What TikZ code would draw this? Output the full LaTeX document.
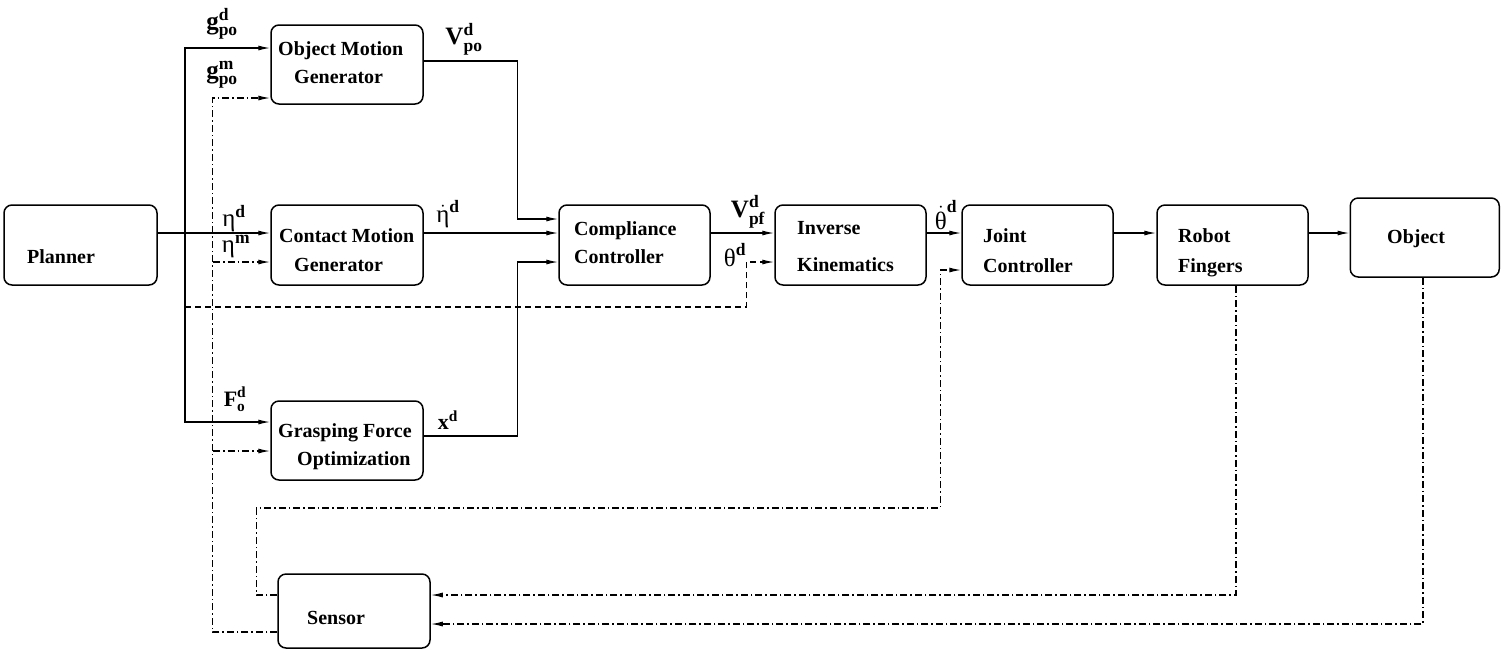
\documentclass[tikz,border=0pt]{standalone}
\usepackage{amsmath}
\usepackage{fontspec}
\setmainfont{Liberation Serif}
\usetikzlibrary{arrows.meta,calc}
\begin{document}
\begin{tikzpicture}[x=1pt,y=-1pt,
  box/.style={draw,line width=1.5pt,rounded corners=8pt,inner sep=0pt},
  txt/.style={anchor=base west,inner sep=0pt,font=\fontsize{20}{24}\selectfont\bfseries},
  lab/.style={inner sep=0pt,font=\fontsize{22}{26}\selectfont},
  grk/.style={inner sep=0pt,font=\fontsize{25}{30}\selectfont},
  bigl/.style={inner sep=0pt,font=\fontsize{25}{30}\selectfont},
  ln/.style={line width=1.3pt},
  arr/.style={ln,-{Latex[length=12pt,width=5pt]}},
  dsh/.style={dash pattern=on 6pt off 4pt},
  dd/.style={dash pattern=on 7pt off 3pt on 1.5pt off 3pt},
]
\useasboundingbox (0,0) rectangle (1501,649);

% boxes
\node[box,minimum width=153pt,minimum height=80pt] (planner) at (80.5,245) {};
\node[box,minimum width=152pt,minimum height=79pt] (omg) at (347,64.5) {};
\node[box,minimum width=152pt,minimum height=80pt] (cmg) at (347,245) {};
\node[box,minimum width=152pt,minimum height=79pt] (gfo) at (347,440.5) {};
\node[box,minimum width=151pt,minimum height=80pt] (cc) at (634.5,245) {};
\node[box,minimum width=151pt,minimum height=80pt] (ik) at (850.5,245) {};
\node[box,minimum width=151pt,minimum height=80pt] (jc) at (1037.5,245) {};
\node[box,minimum width=151pt,minimum height=80pt] (rf) at (1232.5,245) {};
\node[box,minimum width=149pt,minimum height=79pt] (obj) at (1424.75,237.5) {};
\node[box,minimum width=152pt,minimum height=74pt] (sen) at (354,611) {};

% box texts
\node[txt] (planner-t) at (27,263) {Planner};
\node[txt] (omg-t1) at (278,55) {Object Motion};
\node[txt] (omg-t2) at (294,83) {Generator};
\node[txt] (cmg-t1) at (279,242) {Contact Motion};
\node[txt] (cmg-t2) at (294,271) {Generator};
\node[txt] (gfo-t1) at (278,437) {Grasping Force};
\node[txt] (gfo-t2) at (297,465) {Optimization};
\node[txt] (cc-t1) at (574,235) {Compliance};
\node[txt] (cc-t2) at (574,263) {Controller};
\node[txt] (ik-t1) at (797,234) {Inverse};
\node[txt] (ik-t2) at (797,271) {Kinematics};
\node[txt] (jc-t1) at (983,242) {Joint};
\node[txt] (jc-t2) at (983,272) {Controller};
\node[txt] (rf-t1) at (1178,242) {Robot};
\node[txt] (rf-t2) at (1178,272) {Fingers};
\node[txt] (obj-t) at (1387,243) {Object};
\node[txt] (sen-t) at (307,624) {Sensor};

% ports
\coordinate (omg-i1) at (omg.west |- 0,48);
\coordinate (omg-i2) at (omg.west |- 0,98);
\coordinate (omg-o) at (omg.east |- 0,61);
\coordinate (cmg-i1) at (cmg.west |- 0,233);
\coordinate (cmg-i2) at (cmg.west |- 0,262);
\coordinate (cmg-o) at (cmg.east |- 0,233);
\coordinate (gfo-i1) at (gfo.west |- 0,422);
\coordinate (gfo-i2) at (gfo.west |- 0,451);
\coordinate (gfo-o) at (gfo.east |- 0,436);
\coordinate (cc-i1) at (cc.west |- 0,219);
\coordinate (cc-i2) at (cc.west |- 0,233);
\coordinate (cc-i3) at (cc.west |- 0,262);
\coordinate (cc-o) at (cc.east |- 0,233);
\coordinate (ik-i1) at (ik.west |- 0,233);
\coordinate (ik-i2) at (ik.west |- 0,262);
\coordinate (ik-o) at (ik.east |- 0,233);
\coordinate (jc-i1) at (jc.west |- 0,233);
\coordinate (jc-i2) at (jc.west |- 0,270);
\coordinate (jc-o) at (jc.east |- 0,233);
\coordinate (rf-i) at (rf.west |- 0,233);
\coordinate (rf-o) at (rf.east |- 0,233);
\coordinate (rf-b) at (rf.south -| 1236,0);
\coordinate (obj-i) at (obj.west |- 0,233);
\coordinate (obj-b) at (obj.south -| 1423,0);
\coordinate (sen-l1) at (sen.west |- 0,595);
\coordinate (sen-l2) at (sen.west |- 0,632);
\coordinate (sen-r1) at (sen.east |- 0,595);
\coordinate (sen-r2) at (sen.east |- 0,624);
\coordinate (bus) at (185,233);
\coordinate (busd) at (185,307);
\coordinate (fb1) at (213,262);
\coordinate (fb2) at (213,451);

% solid connectors
\draw[arr] (planner.east |- bus) -- (cmg-i1);
\draw[arr] (bus) |- (omg-i1);
\draw[arr] (bus) |- (gfo-i1);
\draw[arr] (omg-o) -- ++(94,0) |- (cc-i1);
\draw[arr] (cmg-o) -- (cc-i2);
\draw[arr] (gfo-o) -- ++(94,0) |- (cc-i3);
\draw[arr] (cc-o) -- (ik-i1);
\draw[arr] (ik-o) -- (jc-i1);
\draw[arr] (jc-o) -- (rf-i);
\draw[arr] (rf-o) -- (obj-i);

% dashed
\draw[arr,dsh] (busd) -| ($(ik-i2)+(-28,0)$) -- (ik-i2);

% dash-dot feedback
\draw[arr,dd] (sen-l2) -- ++(-65,0) |- (omg-i2);
\draw[arr,dd] (fb1) -- (cmg-i2);
\draw[arr,dd] (fb2) -- (gfo-i2);
\draw[arr,dd] (sen-l1) -- ++(-21,0) -- ++(0,-87) -| ($(jc-i2)+(-21,0)$) -- (jc-i2);
\draw[arr,dd] (rf-b) |- (sen-r1);
\draw[arr,dd] (obj-b) |- (sen-r2);

% labels
\node[bigl] (l-gd) at (222,24) {$\textbf{g}_{\textbf{po}}^{\textbf{d}}$};
\node[bigl] (l-gm) at (222,75) {$\textbf{g}_{\textbf{po}}^{\textbf{m}}$};
\node[grk] (l-ed) at (234,219) {$\text{η}^{\textbf{d}}$};
\node[grk] (l-em) at (236,247) {$\text{η}^{\textbf{m}}$};
\node[lab] (l-fd) at (235,399) {$\textbf{F}_{\textbf{o}}^{\textbf{d}}$};
\node[bigl] (l-vpo) at (464,39) {$\textbf{V}_{\textbf{po}}^{\textbf{d}}$};
\node[grk] (l-edot) at (448,214) {$\dot{\text{η}}^{\textbf{d}}$};
\node[lab] (l-xd) at (448,420) {$\textbf{x}^{\textbf{d}}$};
\node[bigl] (l-vpf) at (748,212) {$\textbf{V}_{\textbf{pf}}^{\textbf{d}}$};
\node[grk] (l-td) at (735,255) {$\text{θ}^{\textbf{d}}$};
\node[grk] (l-tdot) at (946,215) {$\dot{\text{θ}}^{\textbf{d}}$};
\end{tikzpicture}
\end{document}
